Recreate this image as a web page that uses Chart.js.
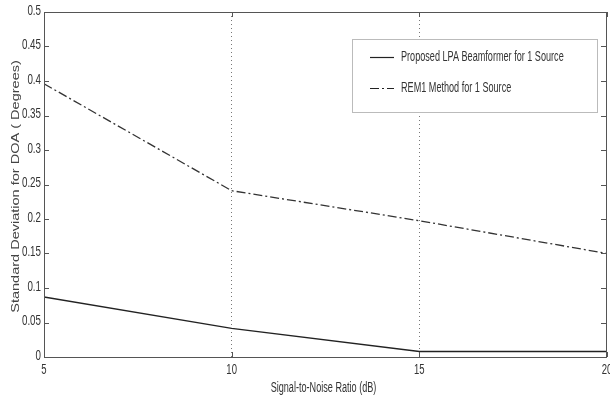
<!DOCTYPE html>
<html><head><meta charset="utf-8">
<script src="https://cdn.jsdelivr.net/npm/chart.js@4.4.1/dist/chart.umd.min.js"></script>
<style>html,body{margin:0;padding:0;background:#fff}#wrap{width:610px;height:401px}</style>
</head><body><div id="wrap"><canvas id="c" width="610" height="401"></canvas></div>
<script>
const snr = [5, 10, 15, 20];
const lpaValues = [0.087, 0.0415, 0.008, 0.008];
const rem1Values = [0.396, 0.241, 0.1975, 0.150];
const xTicks = [5, 10, 15, 20];
const yTicks = [0, 0.05, 0.1, 0.15, 0.2, 0.25, 0.3, 0.35, 0.4, 0.45, 0.5];
const seriesLabels = ['Proposed LPA Beamformer for 1 Source', 'REM1 Method for 1 Source'];
const xTitle = 'Signal-to-Noise Ratio (dB)';
const yTitle = 'Standard Deviation for DOA ( Degrees)';

const FONT = '"Liberation Sans", Arial, sans-serif';
const AXC = '#555';
const TXT = '#333';
const REM_DASH = [9, 3, 2, 3];

function drawText(ctx, text, x, y, size, sx, sy, align, rot, color) {
  ctx.save();
  ctx.translate(x, y);
  if (rot) ctx.rotate(rot);
  ctx.scale(sx, sy);
  ctx.font = size + 'px ' + FONT;
  ctx.fillStyle = color || TXT;
  ctx.textAlign = align;
  ctx.textBaseline = 'middle';
  ctx.fillText(text, 0, 0);
  ctx.restore();
}

const boxPlugin = {
  id: 'boxPlugin',
  afterDraw(chart) {
    const {ctx, chartArea: a, scales: {x, y}} = chart;
    ctx.save();
    ctx.strokeStyle = AXC; ctx.lineWidth = 1;
    ctx.strokeRect(Math.round(a.left) + 0.5, Math.round(a.top) + 0.5, Math.round(a.right - a.left) - 1, Math.round(a.bottom - a.top));
    ctx.beginPath();
    y.ticks.forEach(t => {
      const py = Math.round(y.getPixelForValue(t.value)) + 0.5;
      ctx.moveTo(a.left, py); ctx.lineTo(a.left + 5, py);
      ctx.moveTo(a.right - 1, py); ctx.lineTo(a.right - 6, py);
    });
    x.ticks.forEach(t => {
      const px = Math.round(x.getPixelForValue(t.value)) + 0.5;
      ctx.moveTo(px, a.bottom); ctx.lineTo(px, a.bottom - 5);
      ctx.moveTo(px, a.top); ctx.lineTo(px, a.top + 5);
    });
    ctx.stroke();
    ctx.restore();

    // tick labels
    y.ticks.forEach(t => {
      drawText(ctx, String(t.value), a.left - 3, y.getPixelForValue(t.value) - 1, 14, 0.7, 1, 'right', 0);
    });
    x.ticks.forEach(t => {
      drawText(ctx, String(t.value), x.getPixelForValue(t.value), a.bottom + 13, 14, 0.68, 1, 'center', 0);
    });
    // axis titles
    drawText(ctx, xTitle, (a.left + a.right) / 2 - 2, 388, 14, 0.65, 1, 'center', 0);
    drawText(ctx, yTitle, 16, (a.top + a.bottom) / 2 + 2, 11, 1.32, 1, 'center', -Math.PI / 2, '#444');

    // legend
    ctx.save();
    const lx = 352, ly = 39, lw = 245, lh = 73;
    ctx.fillStyle = '#fff';
    ctx.fillRect(lx, ly, lw, lh);
    ctx.strokeStyle = '#bbb'; ctx.lineWidth = 1;
    ctx.strokeRect(lx + 0.5, ly + 0.5, lw, lh);
    const rows = [{y: 57, dash: []}, {y: 88, dash: REM_DASH}];
    rows.forEach((r, i) => {
      ctx.beginPath();
      ctx.setLineDash(r.dash);
      ctx.strokeStyle = '#222';
      ctx.lineWidth = 1.2;
      ctx.moveTo(370, r.y + 0.5); ctx.lineTo(394, r.y + 0.5);
      ctx.stroke();
      ctx.setLineDash([]);
      drawText(ctx, chart.data.datasets[i].label, 401, r.y, 14, 0.65, 1, 'left', 0);
    });
    ctx.restore();
  }
};

new Chart(document.getElementById('c'), {
  type: 'line',
  data: {
    datasets: [
      {label: seriesLabels[0], data: snr.map((s, i) => ({x: s, y: lpaValues[i]})),
       borderColor: '#222', borderWidth: 1.3, pointRadius: 0, tension: 0, fill: false},
      {label: seriesLabels[1], data: snr.map((s, i) => ({x: s, y: rem1Values[i]})),
       borderColor: '#333', borderWidth: 1.3, borderDash: REM_DASH, pointRadius: 0, tension: 0, fill: false}
    ]
  },
  options: {
    responsive: false, animation: false, devicePixelRatio: 1,
    layout: {padding: {top: 12, right: 3, left: 0, bottom: 0}},
    plugins: {legend: {display: false}, tooltip: {enabled: false}},
    scales: {
      x: {
        type: 'linear', min: 5, max: 20,
        afterBuildTicks: s => { s.ticks = xTicks.map(v => ({value: v})); },
        afterFit: s => { s.height = 44; },
        grid: {color: c => (c.tick && (c.tick.value === 10 || c.tick.value === 15)) ? '#777' : 'rgba(0,0,0,0)',
               drawTicks: false, lineWidth: 1},
        border: {display: false, dash: [1, 3]},
        ticks: {display: false}
      },
      y: {
        type: 'linear', min: 0, max: 0.5,
        afterBuildTicks: s => { s.ticks = yTicks.map(v => ({value: v})); },
        afterFit: s => { s.width = 44; },
        grid: {display: false, drawTicks: false},
        border: {display: false},
        ticks: {display: false}
      }
    }
  },
  plugins: [boxPlugin]
});
</script></body></html>
